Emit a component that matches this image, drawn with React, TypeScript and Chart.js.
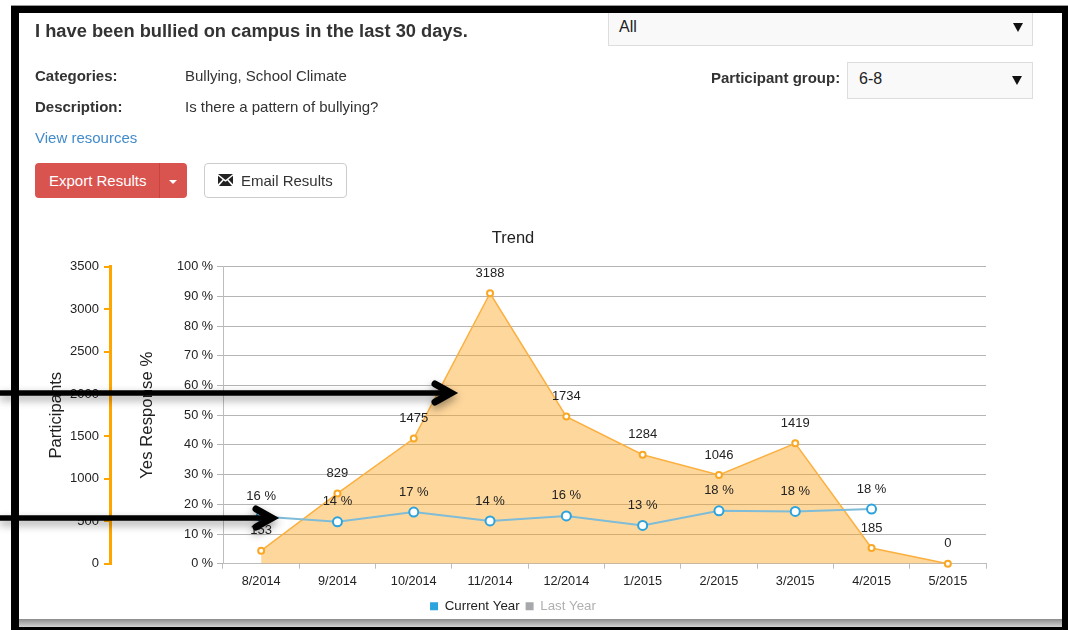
import React, { useEffect, useRef } from "react";
import { Chart, registerables } from "chart.js";

Chart.register(...registerables);

const months = ["8/2014", "9/2014", "10/2014", "11/2014", "12/2014", "1/2015", "2/2015", "3/2015", "4/2015", "5/2015"];
const participants = [153, 829, 1475, 3188, 1734, 1284, 1046, 1419, 185, 0];
const yesPercent = [15.9, 14.1, 17.4, 14.4, 16.1, 12.9, 17.8, 17.6, 18.4, null];
const lastYear: (number | null)[] = [];

const FONT = '"Liberation Sans", Arial, sans-serif';

const pointLabels = {
  id: "pointLabels",
  afterDatasetsDraw(chart: any) {
    const ctx = chart.ctx;
    ctx.save();
    ctx.font = `13px ${FONT}`;
    ctx.fillStyle = "#222";
    ctx.textAlign = "center";
    ctx.textBaseline = "middle";
    chart.data.datasets.forEach((ds: any, i: number) => {
      if (ds.labelSuffix === undefined) return;
      chart.getDatasetMeta(i).data.forEach((pt: any, j: number) => {
        const v = ds.data[j];
        if (v === null || v === undefined) return;
        ctx.fillText(`${Math.round(v)}${ds.labelSuffix}`, pt.x, pt.y - 20);
      });
    });
    ctx.restore();
  },
};

const abs = (left: number, top: number, extra: React.CSSProperties = {}): React.CSSProperties => ({
  position: "absolute",
  left,
  top,
  whiteSpace: "nowrap",
  ...extra,
});

function Arrow({ y, end }: { y: number; end: number }) {
  return (
    <svg style={{ position: "absolute", left: 0, top: 0, pointerEvents: "none" }} width={1068} height={630}>
      <defs>
        <filter id={`s${y}`} x="-10%" y="-100%" width="120%" height="400%">
          <feDropShadow dx="0" dy="4" stdDeviation="4" floodColor="#000" floodOpacity="0.4" />
        </filter>
      </defs>
      <g filter={`url(#s${y})`} stroke="#000" strokeWidth={5.5} fill="none">
        <path d={`M0 ${y} H${end - 8}`} />
        <path d={`M${end - 23} ${y - 9} L${end - 7} ${y} L${end - 23} ${y + 9}`} strokeWidth={7} strokeLinecap="round" />
      </g>
    </svg>
  );
}

export default function App() {
  const ref = useRef<HTMLCanvasElement>(null);

  useEffect(() => {
    document.body.style.margin = "0";
    const chart = new Chart(ref.current!, {
      type: "line",
      plugins: [pointLabels],
      data: {
        labels: months,
        datasets: [
          {
            label: "Current Year",
            data: yesPercent,
            yAxisID: "pct",
            labelSuffix: " %",
            borderColor: "#7fbcd8",
            borderWidth: 2,
            backgroundColor: "#fff",
            pointBackgroundColor: "#fff",
            pointBorderColor: "#2ba3dc",
            pointBorderWidth: 2,
            pointRadius: 4.5,
            tension: 0,
            order: 1,
          },
          {
            label: "Last Year",
            data: lastYear,
            yAxisID: "pct",
            borderColor: "#a6a8ab",
            backgroundColor: "#a6a8ab",
            order: 2,
          },
          {
            label: "Participants",
            data: participants,
            yAxisID: "count",
            labelSuffix: "",
            borderColor: "#fbb040",
            borderWidth: 1.5,
            backgroundColor: "rgba(252,165,30,0.44)",
            fill: "origin",
            pointBackgroundColor: "#fff",
            pointBorderColor: "#f9a825",
            pointBorderWidth: 2,
            pointRadius: 3,
            tension: 0,
            clip: false,
            order: 3,
          },
        ] as any,
      },
      options: {
        animation: false,
        responsive: false,
        layout: { padding: { left: 40, right: 82, top: 0, bottom: 7 } },
        plugins: {
          tooltip: { enabled: false },
          title: {
            display: true,
            text: "Trend",
            color: "#222",
            font: { family: FONT, size: 16.5, weight: "normal" },
            padding: { top: 229, bottom: 18 },
          },
          legend: {
            position: "bottom",
            align: "center",
            labels: {
              font: { family: FONT, size: 13.3 },
              boxWidth: 8,
              boxHeight: 8,
              padding: 6,
              filter: (item: any) => item.text !== "Participants",
              generateLabels: (c: any) =>
                c.data.datasets.map((d: any, i: number) => ({
                  text: d.label,
                  fillStyle: i === 0 ? "#2ba3dc" : "#a6a8ab",
                  strokeStyle: "transparent",
                  lineWidth: 0,
                  fontColor: i === 0 ? "#222" : "#b0b0b0",
                  datasetIndex: i,
                })),
            },
          },
        },
        scales: {
          x: {
            type: "category",
            offset: true,
            afterFit: (s: any) => { s.height = 30; },
            grid: {
              offset: true,
              drawOnChartArea: false,
              drawTicks: true,
              tickLength: 5,
              color: "#bdbdbd",
            },
            border: { color: "#bdbdbd", width: 1 },
            ticks: { color: "#222", font: { family: FONT, size: 12.7 }, padding: 5, maxRotation: 0, autoSkip: false },
          },
          count: {
            type: "linear",
            position: "left",
            weight: 2,
            min: 0,
            max: 3500,
            afterFit: (s: any) => { s.width = 70; },
            title: {
              display: true,
              text: "Participants",
              color: "#222",
              font: { family: FONT, size: 16.6 },
              padding: { top: 6, bottom: 0 },
            },
            grid: { drawOnChartArea: false, drawTicks: true, tickLength: 6, color: "#ffa500", lineWidth: 2 },
            border: { color: "#ffa500", width: 3 },
            ticks: {
              stepSize: 500,
              color: "#222",
              font: { family: FONT, size: 13 },
              padding: 5,
              callback: (v: any) => String(v),
            },
          },
          pct: {
            type: "linear",
            position: "left",
            weight: 1,
            min: 0,
            max: 100,
            afterFit: (s: any) => { s.width = 113; },
            title: {
              display: true,
              text: "Yes Response %",
              color: "#222",
              font: { family: FONT, size: 16.8 },
              padding: { top: 27, bottom: 0 },
            },
            grid: { drawTicks: true, tickLength: 6, color: "#b5b5b5", lineWidth: 1 },
            border: { color: "#bdbdbd", width: 1 },
            ticks: {
              stepSize: 10,
              color: "#222",
              font: { family: FONT, size: 12.7 },
              padding: 4,
              callback: (v: any) => `${v} %`,
            },
          },
        },
      } as any,
    });
    return () => chart.destroy();
  }, []);

  const text: React.CSSProperties = { fontFamily: FONT, fontSize: 15, color: "#333", lineHeight: "16px" };
  const select: React.CSSProperties = {
    position: "absolute",
    background: "#f9f9f9",
    border: "1px solid #ddd",
    boxSizing: "border-box",
  };
  const caret = (left: number, top: number) => (
    <div
      style={abs(left, top, {
        width: 0,
        height: 0,
        borderLeft: "5px solid transparent",
        borderRight: "5px solid transparent",
        borderTop: "9px solid #111",
      })}
    />
  );

  return (
    <div style={{ position: "absolute", left: 0, top: 0, width: 1068, height: 630, overflow: "hidden", background: "#fff" }}>
      <canvas ref={ref} width={1068} height={630} style={{ position: "absolute", left: 0, top: 0, display: "block" }} />

      <div style={abs(35, 20, { ...text, fontSize: 18.3, lineHeight: "21px", fontWeight: 700 })}>I have been bullied on campus in the last 30 days.</div>
      <div style={abs(35, 68, { ...text, fontWeight: 700 })}>Categories:</div>
      <div style={abs(185, 68, text)}>Bullying, School Climate</div>
      <div style={abs(35, 99, { ...text, fontWeight: 700 })}>Description:</div>
      <div style={abs(185, 99, text)}>Is there a pattern of bullying?</div>
      <div style={abs(35, 130, { ...text, color: "#428bca" })}>View resources</div>

      <div style={abs(35, 163, { width: 152, height: 35, background: "#d9534f", borderRadius: 4 })} />
      <div style={abs(159, 163, { width: 1, height: 35, background: "#c9443f" })} />
      <div style={abs(49, 173, { ...text, color: "#fff" })}>Export Results</div>
      <div
        style={abs(169, 180, {
          width: 0,
          height: 0,
          borderLeft: "4px solid transparent",
          borderRight: "4px solid transparent",
          borderTop: "4px solid #fff",
        })}
      />
      <div style={abs(204, 163, { width: 143, height: 35, boxSizing: "border-box", background: "#fff", border: "1px solid #ccc", borderRadius: 4 })} />
      <svg style={abs(218, 174)} width={15} height={12} viewBox="0 0 15 12">
        <path d="M0 0H15L7.5 6Z" fill="#222" />
        <path d="M0 1.8L4.6 5.4L0 10.2Z M15 1.8L10.4 5.4L15 10.2Z" fill="#222" />
        <path d="M1 12L5.6 6.4L7.5 7.8L9.4 6.4L14 12Z" fill="#222" />
      </svg>
      <div style={abs(241, 173, text)}>Email Results</div>

      <div style={{ ...select, left: 608, top: 10, width: 425, height: 36 }} />
      <div style={abs(619, 19, { ...text, fontSize: 16, color: "#222" })}>All</div>
      {caret(1013, 23)}
      <div style={abs(711, 70, { ...text, fontWeight: 700 })}>Participant group:</div>
      <div style={{ ...select, left: 847, top: 62, width: 186, height: 37 }} />
      <div style={abs(859, 71, { ...text, fontSize: 16, color: "#222" })}>6-8</div>
      {caret(1012, 76)}

      <div style={abs(19, 619, { width: 1043, height: 8, background: "linear-gradient(#8c8c8c, #d2d2d2)" })} />
      <div style={abs(11, 5, { width: 1057, height: 1, background: "#999" })} />
      <div
        style={abs(11, 6, {
          width: 1043,
          height: 614,
          borderTop: "7px solid #000",
          borderLeft: "8px solid #000",
          borderRight: "6px solid #000",
          borderBottom: "3px solid #000",
          pointerEvents: "none",
        })}
      />

      <Arrow y={393} end={458} />
      <Arrow y={518} end={279} />
    </div>
  );
}
